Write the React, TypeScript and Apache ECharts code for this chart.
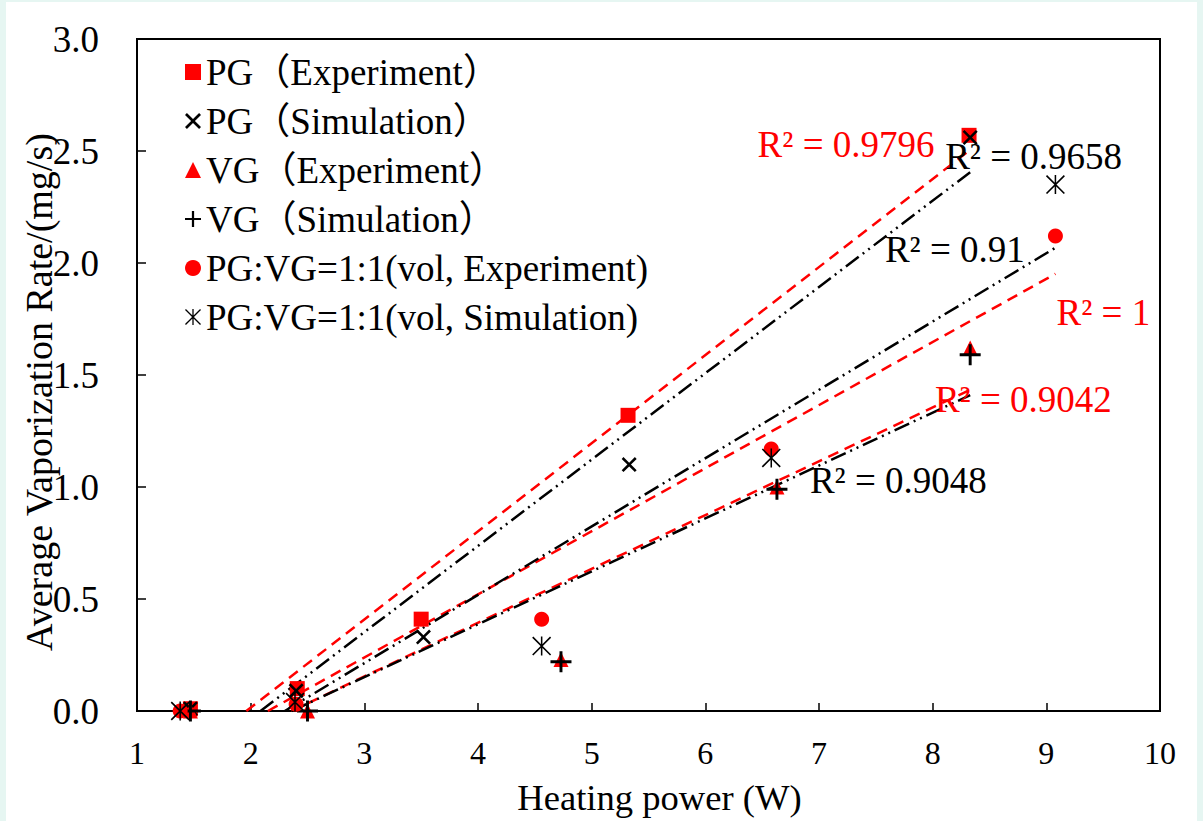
import React, { useEffect, useRef } from "react";
import * as echarts from "echarts";

// ---------- data ----------
const seriesNames = [
  "PG（Experiment）",
  "PG（Simulation）",
  "VG（Experiment）",
  "VG（Simulation）",
  "PG:VG=1:1(vol, Experiment)",
  "PG:VG=1:1(vol, Simulation)",
];

const pgExpX = [1.47, 2.41, 3.5, 5.32, 8.32];
const pgExpY = [0.01, 0.1, 0.41, 1.32, 2.57];

const pgSimX = [1.47, 2.4, 3.52, 5.33, 8.33];
const pgSimY = [0.01, 0.09, 0.33, 1.1, 2.56];

const vgExpX = [1.47, 2.5, 4.73, 6.63, 8.33];
const vgExpY = [0.0, 0.0, 0.23, 1.0, 1.62];

const vgSimX = [1.47, 2.5, 4.73, 6.63, 8.33];
const vgSimY = [0.0, 0.0, 0.22, 0.99, 1.59];

const mixExpX = [1.38, 2.4, 4.56, 6.58, 9.08];
const mixExpY = [0.0, 0.03, 0.41, 1.17, 2.12];

const mixSimX = [1.38, 2.39, 4.56, 6.58, 9.08];
const mixSimY = [0.0, 0.04, 0.29, 1.13, 2.35];

const r2Texts = ["R² = 0.9796", "R² = 0.9658", "R² = 0.91", "R² = 1", "R² = 0.9042", "R² = 0.9048"];
const r2Colors = ["#ff0000", "#000000", "#000000", "#ff0000", "#ff0000", "#000000"];
const r2Pos = [
  [6.46, 2.53],
  [8.11, 2.475],
  [7.58, 2.06],
  [9.09, 1.78],
  [8.02, 1.39],
  [6.92, 1.03],
];

// ---------- styling ----------
const RED = "#ff0000";
const BLACK = "#000000";
const FONT = "'Liberation Serif', 'Times New Roman', 'Noto Sans CJK SC', serif";

const X_PATH = "path://M0,12 L12,0 L50,38 L88,0 L100,12 L62,50 L100,88 L88,100 L50,62 L12,100 L0,88 L38,50 Z";
const PLUS_PATH = "path://M43,0 H57 V43 H100 V57 H57 V100 H43 V57 H0 V43 H43 Z";
const STAR_PATH =
  "path://M46,0 H54 V100 H46 Z M0,6 L6,0 L100,94 L94,100 Z M94,0 L100,6 L6,100 L0,94 Z";

function zip(xs: number[], ys: number[]) {
  return xs.map((x, i) => [x, ys[i]]);
}

function trend(xs: number[], ys: number[]) {
  const n = xs.length;
  const mx = xs.reduce((a, b) => a + b, 0) / n;
  const my = ys.reduce((a, b) => a + b, 0) / n;
  let sxy = 0;
  let sxx = 0;
  for (let i = 0; i < n; i++) {
    sxy += (xs[i] - mx) * (ys[i] - my);
    sxx += (xs[i] - mx) * (xs[i] - mx);
  }
  const m = sxy / sxx;
  const b = my - m * mx;
  const xmin = Math.min(...xs);
  const xmax = Math.max(...xs);
  let x0 = xmin;
  if (m * x0 + b < 0) x0 = -b / m;
  return [
    [x0, m * x0 + b],
    [xmax, m * xmax + b],
  ];
}

export default function App() {
  const ref = useRef<HTMLDivElement>(null);

  useEffect(() => {
    if (!ref.current) return;
    const chart = echarts.init(ref.current, undefined, { renderer: "svg" });

    const scatterDefs = [
      { x: pgExpX, y: pgExpY, symbol: "rect", size: 15, color: RED },
      { x: pgSimX, y: pgSimY, symbol: X_PATH, size: 15, color: BLACK },
      { x: vgExpX, y: vgExpY, symbol: "triangle", size: 15, color: RED },
      { x: vgSimX, y: vgSimY, symbol: PLUS_PATH, size: 21, color: BLACK },
      { x: mixExpX, y: mixExpY, symbol: "circle", size: 15, color: RED },
      { x: mixSimX, y: mixSimY, symbol: STAR_PATH, size: 19, color: BLACK },
    ];

    const dashRed = [11, 7];
    const dashBlack = [16, 5, 2, 5, 2, 5];

    const trendSeries = scatterDefs.map((d, i) => ({
      type: "line",
      name: "trend" + i,
      data: trend(d.x, d.y),
      symbol: "none",
      silent: true,
      z: 1,
      lineStyle: {
        color: d.color,
        width: 2.5,
        type: d.color === RED ? dashRed : dashBlack,
      },
    }));

    const scatterSeries = scatterDefs.map((d, i) => ({
      type: "scatter",
      name: seriesNames[i],
      data: zip(d.x, d.y),
      symbol: d.symbol,
      symbolSize: d.size,
      z: 3,
      itemStyle: { color: d.color, opacity: 1 },
    }));

    const labelSeries = {
      type: "scatter",
      name: "r2",
      symbolSize: 0,
      silent: true,
      z: 5,
      itemStyle: { opacity: 1 },
      data: r2Pos.map((p, i) => ({
        value: p,
        itemStyle: { opacity: 1 },
        label: {
          show: true,
          position: "right",
          distance: 0,
          formatter: r2Texts[i],
          color: r2Colors[i],
          opacity: 1,
          fontSize: 37,
          fontFamily: FONT,
        },
      })),
    };

    chart.setOption({
      animation: false,
      backgroundColor: "#ffffff",
      textStyle: { fontFamily: FONT },
      grid: {
        left: 131,
        top: 37,
        right: 37,
        bottom: 110,
        containLabel: false,
        outerBoundsMode: "none",
        show: true,
        borderColor: "#000",
        borderWidth: 2,
        backgroundColor: "transparent",
      },
      legend: {
        data: seriesNames,
        orient: "vertical",
        left: 179,
        top: 50,
        padding: 0,
        itemGap: 9,
        itemWidth: 16,
        itemHeight: 16,
        textStyle: { fontSize: 37, fontFamily: FONT, color: "#000", lineHeight: 40 },
      },
      xAxis: {
        type: "value",
        min: 1,
        max: 10,
        interval: 1,
        name: "Heating power (W)",
        nameLocation: "middle",
        nameGap: 68,
        nameMoveOverlap: false,
        nameTextStyle: { fontSize: 36.6, fontFamily: FONT, color: "#000", padding: [0, 0, 0, 22] },
        axisLine: { show: true, lineStyle: { color: "#000", width: 2 } },
        axisTick: { show: true, inside: true, length: 8, lineStyle: { color: "#000", width: 1.5 } },
        axisLabel: { fontSize: 32, fontFamily: FONT, color: "#000", margin: 26 },
        splitLine: { show: false },
      },
      yAxis: {
        type: "value",
        min: 0,
        max: 3,
        interval: 0.5,
        name: "Average Vaporization Rate/(mg/s)",
        nameLocation: "middle",
        nameRotate: 90,
        nameGap: 79,
        nameMoveOverlap: false,
        nameTextStyle: { fontSize: 38, fontFamily: FONT, color: "#000", padding: [0, 34, 0, 0] },
        axisLine: { show: true, lineStyle: { color: "#000", width: 2 } },
        axisTick: { show: true, inside: true, length: 9, lineStyle: { color: "#000", width: 1.5 } },
        axisLabel: {
          fontSize: 37,
          fontFamily: FONT,
          color: "#000",
          margin: 38,
          formatter: (v: number) => v.toFixed(1),
        },
        splitLine: { show: false },
      },
      series: [...trendSeries, ...scatterSeries, labelSeries],
    });

    return () => chart.dispose();
  }, []);

  return (
    <div
      style={{
        position: "fixed",
        left: 0,
        top: 0,
        width: 1203,
        height: 821,
        background: "#e6f6f2",
      }}
    >
      <div
        ref={ref}
        style={{ position: "absolute", left: 6, top: 2, width: 1191, height: 819, background: "#fff" }}
      />
    </div>
  );
}
